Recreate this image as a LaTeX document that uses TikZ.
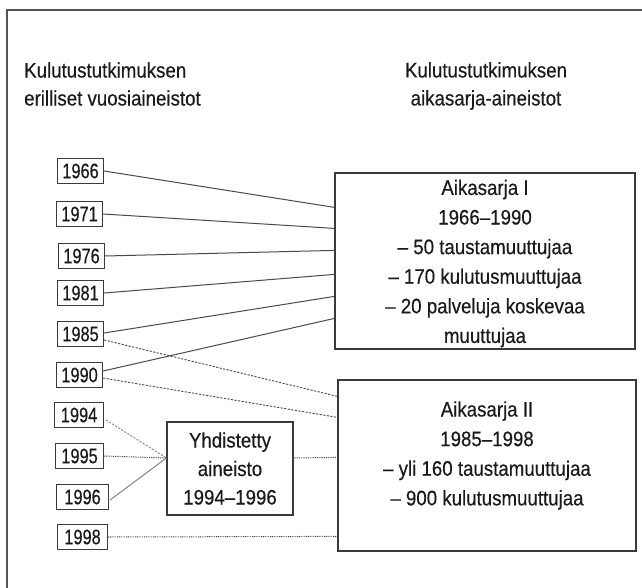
\documentclass[tikz,border=0pt]{standalone}
\usepackage{fontspec}
\setmainfont[FakeStretch=0.89,FakeBold=0.35]{Liberation Sans}
\newfontfamily\yrfont[FakeStretch=0.78,FakeBold=0.35]{Liberation Sans}
\definecolor{txt}{HTML}{1A1A1A}
\definecolor{boxgray}{HTML}{3A3A3A}
\definecolor{linegray}{HTML}{4A4A4A}
\definecolor{lightline}{HTML}{858585}
\definecolor{framecol}{HTML}{555555}
\begin{document}
\begin{tikzpicture}[x=1pt,y=-1pt,
  yearbox/.style={draw=boxgray, line width=1.1pt, font=\yrfont\fontsize{21}{24}\selectfont,
    text=txt, minimum height=25pt, minimum width=46pt, inner xsep=4.5pt, inner ysep=0pt, anchor=west},
  bigbox/.style={draw=boxgray, line width=1.2pt, inner sep=0pt},
  txtnode/.style={align=center, inner sep=0pt, text=txt, font=\fontsize{21}{29.6}\selectfont},
  titlenode/.style={inner sep=0pt, text=txt, font=\fontsize{21}{28}\selectfont},
  solidcon/.style={draw=linegray, line width=1pt},
  lightcon/.style={draw=lightline, line width=1pt},
  dashcon/.style={draw=linegray, line width=0.9pt, dash pattern=on 2.2pt off 1.4pt},
  dotcon/.style={draw=linegray, line width=1pt, dash pattern=on 0.9pt off 0.9pt}]
\useasboundingbox (0,0) rectangle (642,588);
% outer frame (cropped)
\draw[framecol, line width=1.3pt] (642,10) -- (7,10) -- (7,588);

% titles
\node[titlenode, align=left, anchor=west] (tl) at (24,84)
  {Kulutustutkimuksen\\erilliset vuosiaineistot};
\node[titlenode, align=center] (tr) at (486,86)
  {Kulutustutkimuksen\\aikasarja-aineistot};

% year boxes
\node[yearbox] (y1966) at (57,171) {1966};
\node[yearbox] (y1971) at (56,214) {1971};
\node[yearbox] (y1976) at (58,256) {1976};
\node[yearbox] (y1981) at (57,293) {1981};
\node[yearbox] (y1985) at (57,334) {1985};
\node[yearbox] (y1990) at (56,375) {1990};
\node[yearbox, minimum width=49pt] (y1994) at (54,415) {1994};
\node[yearbox, minimum width=48pt] (y1995) at (55,456) {1995};
\node[yearbox, minimum width=52pt] (y1996) at (56,497) {1996};
\node[yearbox, minimum width=50pt] (y1998) at (57,537) {1998};

% combined box
\node[bigbox, txtnode, draw=boxgray, line width=1.2pt, minimum width=126pt, minimum height=93pt,
  font=\fontsize{21}{28.5}\selectfont] (Y) at (230,468.5)
  {Yhdistetty\\aineisto\\1994--1996};

% time series boxes
\node[bigbox, minimum width=300pt, minimum height=176pt] (A1) at (485,261) {};
\node[txtnode] (A1t) at (485,263.5)
  {Aikasarja I\\1966--1990\\-- 50 taustamuuttujaa\\-- 170 kulutusmuuttujaa\\-- 20 palveluja koskevaa\\muuttujaa};
\node[bigbox, minimum width=298pt, minimum height=171pt] (A2) at (487,465.5) {};
\node[txtnode] (A2t) at (487,455.5)
  {Aikasarja II\\1985--1998\\-- yli 160 taustamuuttujaa\\-- 900 kulutusmuuttujaa};

% connectors to Aikasarja I
\draw[solidcon] (y1966.east) -- ([yshift=-35pt]A1.north west);
\draw[solidcon] (y1971.east) -- ([yshift=-56pt]A1.north west);
\draw[solidcon] (y1976.east) -- ([yshift=-78pt]A1.north west);
\draw[solidcon] (y1981.east) -- ([yshift=-102pt]A1.north west);
\draw[solidcon] ([yshift=1pt]y1985.east) -- ([yshift=-124pt]A1.north west);
\draw[solidcon] ([yshift=4pt]y1990.east) -- ([yshift=-146pt]A1.north west);

% connectors to Aikasarja II
\draw[dashcon] ([yshift=-6pt]y1985.east) -- ([yshift=-17pt]A2.north west);
\draw[dashcon] ([yshift=-3pt]y1990.east) -- ([yshift=-38pt]A2.north west);
\draw[dotcon] ([yshift=10.5pt]Y.east) -- ([yshift=-78pt]A2.north west);
\draw[dotcon] (y1998.east) -- ([yshift=-157pt]A2.north west);

% connectors to combined box
\coordinate (yj) at ([yshift=10.5pt]Y.west);
\draw[dashcon, draw=lightline] ([xshift=2pt,yshift=-5pt]y1994.east) -- (yj);
\draw[dotcon] (y1995.east) -- (yj);
\draw[lightcon] ([xshift=1pt,yshift=-3pt]y1996.east) -- (yj);
\end{tikzpicture}
\end{document}
